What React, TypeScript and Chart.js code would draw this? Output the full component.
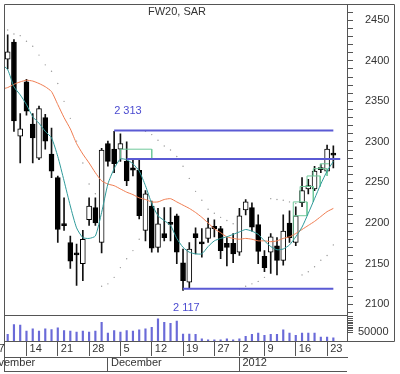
import React, { useEffect, useRef } from 'react';
import { Chart, registerables } from 'chart.js';

Chart.register(...registerables);

const FAMILY = "'Liberation Sans', Arial, Helvetica, sans-serif";

// Trading days of FW20 futures (Nov 7 2011 – Jan 24 2012)
const dates = [
  '2011-11-07','2011-11-08','2011-11-09','2011-11-10','2011-11-14','2011-11-15','2011-11-16','2011-11-17','2011-11-18',
  '2011-11-21','2011-11-22','2011-11-23','2011-11-24','2011-11-25','2011-11-28','2011-11-29','2011-11-30',
  '2011-12-01','2011-12-02','2011-12-05','2011-12-06','2011-12-07','2011-12-08','2011-12-09',
  '2011-12-12','2011-12-13','2011-12-14','2011-12-15','2011-12-16','2011-12-19','2011-12-20','2011-12-21','2011-12-22','2011-12-23',
  '2011-12-27','2011-12-28','2011-12-29','2011-12-30',
  '2012-01-02','2012-01-03','2012-01-04','2012-01-05','2012-01-09','2012-01-10','2012-01-11','2012-01-12','2012-01-13',
  '2012-01-16','2012-01-17','2012-01-18','2012-01-19','2012-01-20','2012-01-23','2012-01-24',
];

const opens = [
  2395,2402,2423,2307,2374,2322,2280,2330,2285,
  2256,2199,2176,2163,2150,2204,2219,2176,
  2298,2291,2291,2276,2268,2265,2191,
  2221,2170,2187,2200,2209,2151,2127,2187,2176,2181,
  2196,2193,2175,2175,
  2164,2216,2219,2198,2159,2164,2172,2154,2200,
  2176,2225,2242,2242,2268,2264,2286,
];
const highs = [
  2440,2432,2426,2335,2377,2335,2344,2334,2317,
  2258,2231,2184,2174,2191,2231,2231,2292,
  2301,2313,2310,2300,2279,2279,2240,
  2227,2218,2219,2219,2211,2168,2176,2194,2193,2206,
  2204,2196,2182,2187,
  2218,2229,2225,2210,2166,2187,2182,2210,2215,
  2220,2256,2254,2270,2272,2296,2295,
];
const lows = [
  2385,2390,2313,2274,2333,2274,2278,2291,2256,
  2176,2191,2144,2123,2129,2197,2197,2163,
  2270,2262,2276,2246,2258,2205,2178,
  2164,2164,2178,2178,2150,2117,2120,2162,2158,2176,
  2183,2156,2147,2151,
  2160,2210,2190,2150,2140,2138,2136,2148,2176,
  2172,2220,2236,2240,2262,2262,2268,
];
const closes = [
  2405,2411,2326,2316,2338,2305,2341,2301,2264,
  2192,2197,2153,2161,2180,2221,2200,2290,
  2276,2273,2298,2252,2265,2209,2236,
  2169,2199,2182,2199,2164,2129,2168,2182,2175,2194,
  2193,2166,2170,2162,
  2209,2226,2195,2165,2145,2183,2154,2190,2182,
  2209,2240,2246,2264,2266,2291,2284,
];
const volumes = [
  60000,38000,96000,92000,57000,71000,57000,71000,67000,
  76000,61000,57000,52000,57000,52000,57000,109000,
  46000,61000,52000,61000,57000,65000,71000,
  80000,128000,109000,102000,115000,40000,40000,38000,13000,7000,
  7000,7000,13000,7000,
  13000,27000,38000,46000,33000,38000,38000,65000,46000,
  33000,46000,46000,46000,23000,23000,19000,
];
const sar = [
  2445,2438,2433,2431,2424,2418,2407,2395,2387,
  2372,2350,2329,2301,2274,2248,2236,2122,
  2125,2133,2145,2156,2166,2180,2313,
  2309,2302,2295,2290,2282,2270,2255,2239,2228,2217,
  2212,2207,2203,2199,
  2119,2122,2125,2128,2133,2230,2229,2228,2226,
  2224,2136,2140,2146,2154,2160,2173,
];
const maFast = [
  2396,2389,2368,2358,2346,2331,2323,2313,2305,
  2282,2252,2221,2194,2182,2181,2184,2213,
  2248,2267,2279,2278,2273,2264,2246,
  2224,2209,2203,2197,2181,2170,2164,2162,2162,2171,
  2178,2181,2183,2186,
  2189,2192,2190,2186,2178,2171,2167,2168,2173,
  2183,2195,2212,2230,2248,2264,2276,
];
const maSlow = [
  2365,2367,2371,2374,2376,2375,2372,2368,2362,
  2346,2330,2316,2298,2285,2274,2262,2252,
  2248,2246,2242,2238,2235,2231,2229,
  2226,2226,2229,2230,2226,2222,2218,2213,2207,2200,
  2193,2188,2183,2181,
  2180,2181,2180,2178,2178,2177,2178,2181,2183,
  2187,2192,2197,2202,2208,2214,2218,
];

// horizontal levels (value, first day index, last day index)
const levelValues = [2314, 2279, 2119];
const levelStarts = [18, 20, 29];
const levelEnds = [53, 54.1, 53];
const levelTexts = ['2 313', '2 117'];
const levelTextDays = [18, 27.4];
const levelTextPrices = [2334, 2092];

// green step boxes: [day index, price] corners, null = break
const greenSteps: (number[] | null)[] = [
  [19, 2279], [19, 2291], [24, 2291], [24, 2279], null,
  [46.6, 2178], [46.6, 2226], [48.8, 2226], [48.8, 2209], [46.6, 2209], null,
  [47.7, 2226], [47.7, 2245], [49.8, 2245], [49.8, 2226], null,
  [48.8, 2245], [48.8, 2258], [50.9, 2258], [50.9, 2245], null,
  [49.8, 2258], [49.8, 2267], [52, 2267], [52, 2258], null,
  [50.9, 2267], [50.9, 2273], [52.3, 2273],
];

const priceLabels = [2100, 2150, 2200, 2250, 2300, 2350, 2400, 2450];
const volumeLabels = [50000];
const monthNames = ['January','February','March','April','May','June','July','August','September','October','November','December'];

export default function App() {
  const ref = useRef<HTMLCanvasElement>(null);

  useEffect(() => {
    document.body.style.margin = '0';
    const canvas = ref.current;
    if (!canvas) return;

    const weekTicks: number[] = [];
    const monthTicks: number[] = [];
    const dayObj = dates.map((d) => new Date(d + 'T00:00:00Z'));
    dayObj.forEach((cur, k) => {
      if (k === 0) { weekTicks.push(0); return; }
      const prev = dayObj[k - 1];
      const gap = (cur.getTime() - prev.getTime()) / 86400000;
      if (cur.getUTCDay() < prev.getUTCDay() || gap >= 7) weekTicks.push(k);
      if (cur.getUTCMonth() !== prev.getUTCMonth()) monthTicks.push(k);
    });
    const dayLabel = (k: number) => String(dayObj[Math.round(k)].getUTCDate());
    const monthLabel = (k: number) => {
      const d = dayObj[Math.round(k)];
      return d.getUTCMonth() === 0 ? String(d.getUTCFullYear()) : monthNames[d.getUTCMonth()];
    };

    const minBody = 2.5;
    const wicks = dates.map((_, k) => ({ x: k, y: [lows[k], highs[k]] }));
    const bodies = dates.map((_, k) => {
      const o = opens[k], c = closes[k];
      if (Math.abs(o - c) < minBody) {
        const m = (o + c) / 2;
        return { x: k, y: [m - minBody / 2, m + minBody / 2] };
      }
      return { x: k, y: [o, c] };
    });
    const bodyColors = dates.map((_, k) => (closes[k] >= opens[k] ? '#ffffff' : '#000000'));
    const vol = dates.map((_, k) => ({ x: k, y: volumes[k] }));
    const sarPts = dates.map((_, k) => ({ x: k, y: sar[k] }));
    const fastPts = dates.map((_, k) => ({ x: k, y: maFast[k] }));
    const slowPts = dates.map((_, k) => ({ x: k, y: maSlow[k] }));
    const levelPts: any[] = [];
    levelValues.forEach((v, i) => {
      levelPts.push({ x: levelStarts[i], y: v }, { x: levelEnds[i], y: v }, { x: levelEnds[i], y: null });
    });
    const greenPts = greenSteps.map((p, i) => (p ? { x: p[0], y: p[1] } : { x: (greenSteps[i - 1] as number[])[0], y: null }));

    const priceMinor: number[] = [];
    for (let v = 2090; v <= 2460; v += 10) priceMinor.push(v);
    const volMinor: number[] = [];
    for (let v = 50000; v <= 140000; v += 10000) volMinor.push(v);

    const tickFont = { family: FAMILY, size: 11 };
    const zeroPad = (s: any) => { s.paddingLeft = 0; s.paddingRight = 0; s.paddingTop = 0; s.paddingBottom = 0; };

    const overlay = {
      id: 'overlay',
      afterDraw(chart: any) {
        const { ctx, chartArea: a, scales } = chart;
        const xs = scales.x, ys = scales.y, yv = scales.yv, xm = scales.xm;
        ctx.save();
        ctx.strokeStyle = '#555';
        ctx.lineWidth = 1;
        ctx.beginPath();
        // plot frame (left, top) + right panel frame
        ctx.moveTo(a.left + 0.5, xm.bottom);
        ctx.lineTo(a.left + 0.5, a.top + 0.5);
        ctx.lineTo(ys.right - 0.5, a.top + 0.5);
        ctx.lineTo(ys.right - 0.5, yv.bottom + 0.5);
        ctx.lineTo(ys.left, yv.bottom + 0.5);
        // separator between price and volume panel
        ctx.moveTo(a.left, Math.round(yv.top) + 0.5);
        ctx.lineTo(a.right, Math.round(yv.top) + 0.5);
        // bottom line of the month row
        ctx.moveTo(a.left, xm.bottom - 0.5);
        ctx.lineTo(a.right, xm.bottom - 0.5);
        ctx.stroke();

        // title
        ctx.fillStyle = '#333';
        ctx.font = `11px ${FAMILY}`;
        ctx.textAlign = 'left';
        ctx.textBaseline = 'alphabetic';
        ctx.fillText('FW20, SAR', 148, 15);

        // level labels
        ctx.fillStyle = '#4b4bd0';
        levelTexts.forEach((t, i) => {
          ctx.fillText(t, xs.getPixelForValue(levelTextDays[i]), ys.getPixelForValue(levelTextPrices[i]));
        });

        // partially visible first week / month labels
        ctx.fillStyle = '#333';
        ctx.textBaseline = 'middle';
        ctx.fillText(dayLabel(0), xs.getPixelForValue(0) - 3, xs.top + 7.6);
        ctx.fillText(monthNames[dayObj[0].getUTCMonth()], xm.getPixelForValue(0) - 17, xm.top + 5.6);
        ctx.restore();
      },
    };

    const chart = new Chart(canvas, {
      type: 'bar',
      data: {
        datasets: [
          { type: 'line', label: 'Levels', data: levelPts, borderColor: '#5a5ad4', borderWidth: 2, pointRadius: 0, spanGaps: false, order: 0, xAxisID: 'x', yAxisID: 'y' } as any,
          { type: 'line', label: 'MA fast', data: fastPts, borderColor: '#2f9a9a', borderWidth: 1, pointRadius: 0, tension: 0.2, order: 1, xAxisID: 'x', yAxisID: 'y' },
          { type: 'line', label: 'MA slow', data: slowPts, borderColor: '#ef7c50', borderWidth: 1, pointRadius: 0, tension: 0.2, order: 2, xAxisID: 'x', yAxisID: 'y' },
          { type: 'line', label: 'Steps', data: greenPts, borderColor: '#6fc89a', borderWidth: 1, pointRadius: 0, spanGaps: false, order: 3, xAxisID: 'x', yAxisID: 'y' },
          { type: 'bar', label: 'Body', data: bodies, backgroundColor: bodyColors, borderColor: '#000', borderWidth: 1, borderSkipped: false, barThickness: 5, grouped: false, order: 4, xAxisID: 'x', yAxisID: 'y' } as any,
          { type: 'bar', label: 'Wick', data: wicks, backgroundColor: '#111', barThickness: 1, grouped: false, order: 5, xAxisID: 'x', yAxisID: 'y' } as any,
          { type: 'line', label: 'SAR', data: sarPts, showLine: false, pointRadius: 0.7, pointBackgroundColor: '#999999', pointBorderWidth: 0, order: 6, xAxisID: 'x', yAxisID: 'y' },
          { type: 'bar', label: 'Volume', data: vol, backgroundColor: '#6a6ad8', barThickness: 1.5, grouped: false, order: 7, xAxisID: 'x', yAxisID: 'yv' } as any,
        ],
      },
      options: {
        animation: false,
        responsive: false,
        events: [],
        layout: { padding: { left: 3, top: 2, right: 5, bottom: 2 } },
        plugins: { legend: { display: false }, tooltip: { enabled: false }, title: { display: false } },
        scales: {
          x: {
            type: 'linear', position: 'bottom', min: 0.411, max: 55.18, offset: false, weight: 0,
            afterBuildTicks: (s: any) => { s.ticks = weekTicks.filter((k) => k >= s.min && k <= s.max).map((k) => ({ value: k })); },
            afterFit: (s: any) => { s.height = 16; zeroPad(s); },
            grid: { drawOnChartArea: false, offset: false, tickLength: 15, color: '#555' },
            border: { display: true, color: '#555' },
            ticks: { align: 'start', padding: -14, autoSkip: false, maxRotation: 0, color: '#333', font: tickFont, callback: (v: any) => ' ' + dayLabel(v) },
          },
          xm: {
            type: 'linear', position: 'bottom', min: 0.411, max: 55.18, offset: false, weight: 1,
            afterBuildTicks: (s: any) => { s.ticks = monthTicks.map((k) => ({ value: k })); },
            afterFit: (s: any) => { s.height = 15; zeroPad(s); },
            grid: { drawOnChartArea: false, offset: false, tickLength: 15, color: '#555' },
            border: { display: true, color: '#555' },
            ticks: { align: 'start', padding: -16, autoSkip: false, maxRotation: 0, color: '#333', font: tickFont, callback: (v: any) => ' ' + monthLabel(v) },
          },
          y: {
            type: 'linear', position: 'right', stack: 'panels', stackWeight: 313, min: 2086.4, max: 2470, beginAtZero: false,
            afterBuildTicks: (s: any) => { s.ticks = priceMinor.map((v) => ({ value: v })); },
            afterFit: (s: any) => { s.width = 48; zeroPad(s); },
            grid: { drawOnChartArea: false, tickLength: 6, color: '#555' },
            border: { display: true, color: '#555' },
            ticks: { padding: 12, autoSkip: false, color: '#333', font: tickFont, callback: (v: any) => (priceLabels.includes(v) ? String(v) : '') },
          },
          yv: {
            type: 'linear', position: 'right', stack: 'panels', stackWeight: 26, min: 0, max: 150000,
            afterBuildTicks: (s: any) => { s.ticks = volMinor.map((v) => ({ value: v })); },
            afterFit: (s: any) => { s.width = 48; zeroPad(s); },
            grid: { drawOnChartArea: false, tickLength: 6, color: '#555' },
            border: { display: true, color: '#555' },
            ticks: { padding: 5, autoSkip: false, color: '#333', font: tickFont, callback: (v: any) => (volumeLabels.includes(v) ? String(v) : '') },
          },
        },
      } as any,
      plugins: [overlay],
    });

    return () => chart.destroy();
  }, []);

  return (
    <div style={{ width: 400, height: 374, background: '#fff' }}>
      <canvas ref={ref} width={400} height={374} style={{ display: 'block' }} />
    </div>
  );
}
